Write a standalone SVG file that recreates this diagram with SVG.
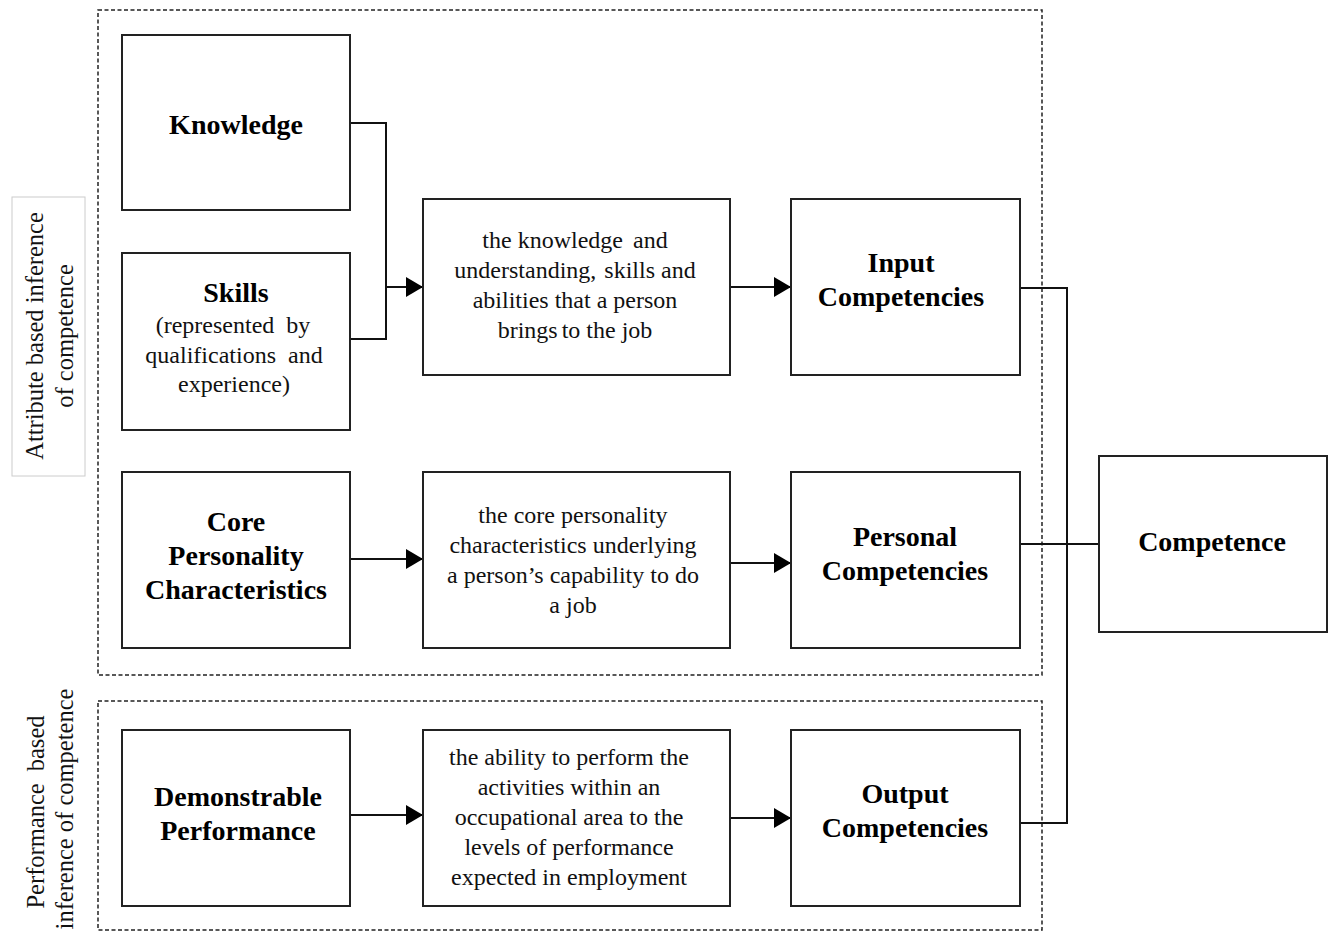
<svg xmlns="http://www.w3.org/2000/svg" width="1335" height="932" viewBox="0 0 1335 932">
  <style>
    .box { fill: #fff; stroke: #222; stroke-width: 2; }
    .group { fill: none; stroke: #222; stroke-width: 1.5; stroke-dasharray: 4 2.5; }
    .wire { fill: none; stroke: #111; stroke-width: 2; }
    .title { font-family: "Liberation Serif", "Times New Roman", serif; font-weight: bold; font-size: 28px; fill: #000; text-anchor: middle; }
    .body { font-family: "Liberation Serif", "Times New Roman", serif; font-size: 24px; fill: #111; text-anchor: middle; }
    .side { font-family: "Liberation Serif", "Times New Roman", serif; font-size: 24.5px; fill: #111; text-anchor: middle; }
    .wide { word-spacing: 6px; }
  </style>
  <defs>
    <marker id="arrow" markerUnits="userSpaceOnUse" markerWidth="18" markerHeight="20" refX="17" refY="10" orient="auto">
      <path d="M0,0 L17,10 L0,20 Z" fill="#000"/>
    </marker>
  </defs>
  <rect width="1335" height="932" fill="#fff"/>

  <!-- grouping frames -->
  <rect class="group" x="98" y="10" width="944" height="665"/>
  <rect class="group" x="98" y="701" width="944" height="229"/>

  <!-- side captions -->
  <g id="attribute-label">
    <rect x="12" y="197" width="73" height="279" fill="#fff" stroke="#ccc" stroke-width="1"/>
    <text class="side" transform="translate(43,336) rotate(-90)">Attribute based inference</text>
    <text class="side" transform="translate(73,336) rotate(-90)">of competence</text>
  </g>
  <g id="performance-label">
    <text class="side wide" transform="translate(44,812) rotate(-90)">Performance based</text>
    <text class="side" transform="translate(73,809) rotate(-90)">inference of competence</text>
  </g>

  <!-- connectors -->
  <g id="connectors">
    <path class="wire" d="M350,123 H386 V339 H350"/>
    <path class="wire" d="M386,287 H423" marker-end="url(#arrow)"/>
    <path class="wire" d="M730,287 H791" marker-end="url(#arrow)"/>
    <path class="wire" d="M350,559 H423" marker-end="url(#arrow)"/>
    <path class="wire" d="M730,563 H791" marker-end="url(#arrow)"/>
    <path class="wire" d="M350,815 H423" marker-end="url(#arrow)"/>
    <path class="wire" d="M730,818 H791" marker-end="url(#arrow)"/>
    <path class="wire" d="M1020,288 H1067 V823 H1020"/>
    <path class="wire" d="M1020,544 H1099"/>
  </g>

  <g id="knowledge">
    <rect class="box" x="122" y="35" width="228" height="175"/>
    <text class="title" x="236" y="134">Knowledge</text>
  </g>
  <g id="skills">
    <rect class="box" x="122" y="253" width="228" height="177"/>
    <text class="title" x="236" y="302">Skills</text>
    <text class="body wide" x="233" y="333">(represented by</text>
    <text class="body wide" x="234" y="363">qualifications and</text>
    <text class="body" x="234" y="392">experience)</text>
  </g>
  <g id="core-personality">
    <rect class="box" x="122" y="472" width="228" height="176"/>
    <text class="title" x="236" y="531">Core</text>
    <text class="title" x="236" y="565">Personality</text>
    <text class="title" x="236" y="599">Characteristics</text>
  </g>
  <g id="demonstrable-performance">
    <rect class="box" x="122" y="730" width="228" height="176"/>
    <text class="title" x="238" y="806">Demonstrable</text>
    <text class="title" x="238" y="840">Performance</text>
  </g>

  <g id="input-description">
    <rect class="box" x="423" y="199" width="307" height="176"/>
    <text class="body" x="575" y="248"><tspan>the knowledge</tspan><tspan dx="10">and</tspan></text>
    <text class="body" x="575" y="278"><tspan>understanding,</tspan><tspan dx="8">skills and</tspan></text>
    <text class="body" x="575" y="308">abilities that a person</text>
    <text class="body" x="575" y="338"><tspan>brings</tspan><tspan dx="4">to the job</tspan></text>
  </g>
  <g id="personal-description">
    <rect class="box" x="423" y="472" width="307" height="176"/>
    <text class="body" x="573" y="523">the core personality</text>
    <text class="body" x="573" y="553">characteristics underlying</text>
    <text class="body" x="573" y="583"><tspan>a person’s capability</tspan><tspan dx="6">to do</tspan></text>
    <text class="body" x="573" y="613">a job</text>
  </g>
  <g id="output-description">
    <rect class="box" x="423" y="730" width="307" height="176"/>
    <text class="body" x="569" y="765"><tspan>the ability to perform</tspan><tspan dx="6">the</tspan></text>
    <text class="body" x="569" y="795">activities within an</text>
    <text class="body" x="569" y="825"><tspan>occupational</tspan><tspan dx="6">area to the</tspan></text>
    <text class="body" x="569" y="855">levels of performance</text>
    <text class="body" x="569" y="885">expected in employment</text>
  </g>

  <g id="input-competencies">
    <rect class="box" x="791" y="199" width="229" height="176"/>
    <text class="title" x="901" y="272">Input</text>
    <text class="title" x="901" y="306">Competencies</text>
  </g>
  <g id="personal-competencies">
    <rect class="box" x="791" y="472" width="229" height="176"/>
    <text class="title" x="905" y="546">Personal</text>
    <text class="title" x="905" y="580">Competencies</text>
  </g>
  <g id="output-competencies">
    <rect class="box" x="791" y="730" width="229" height="176"/>
    <text class="title" x="905" y="803">Output</text>
    <text class="title" x="905" y="837">Competencies</text>
  </g>

  <g id="competence">
    <rect class="box" x="1099" y="456" width="228" height="176"/>
    <text class="title" x="1212" y="551">Competence</text>
  </g>
</svg>
